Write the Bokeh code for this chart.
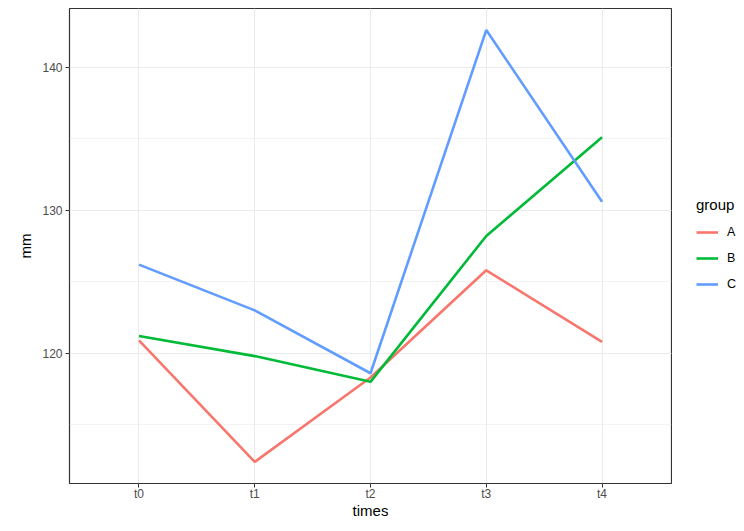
from bokeh.plotting import figure
from bokeh.layouts import row
from bokeh.models import Range1d, FixedTicker, SingleIntervalTicker, Legend, LegendItem
from bokeh.embed import file_html
from bokeh.resources import INLINE

times = ["t0", "t1", "t2", "t3", "t4"]
groups = ["A", "B", "C"]
values_A = [120.9, 112.4, 118.3, 125.8, 120.8]
values_B = [121.2, 119.8, 118.0, 128.2, 135.1]
values_C = [126.2, 123.0, 118.6, 142.6, 130.6]
colors = ["#F8766D", "#00BA38", "#619CFF"]

series = [values_A, values_B, values_C]
allv = values_A + values_B + values_C
lo, hi = min(allv), max(allv)
pad = (hi - lo) * 0.05

FONT = "Liberation Sans"

p = figure(width=672, height=531, output_backend="svg", toolbar_location=None,
           x_range=Range1d(-0.6, len(times) - 1 + 0.6),
           y_range=Range1d(lo - pad, hi + pad),
           min_border_left=69, min_border_right=1, min_border_top=8, min_border_bottom=48)

xs = list(range(len(times)))
for g, vals, c in zip(groups, series, colors):
    p.line(xs, vals, line_color=c, line_width=2.6)

p.background_fill_color = "white"
p.border_fill_color = "white"
p.outline_line_color = "#333333"
p.outline_line_width = 1.2

p.xaxis.ticker = FixedTicker(ticks=xs)
p.xaxis.major_label_overrides = {i: t for i, t in enumerate(times)}
p.yaxis.ticker = SingleIntervalTicker(interval=10, num_minor_ticks=2)

for ax in (p.xaxis[0], p.yaxis[0]):
    ax.axis_line_color = None
    ax.major_tick_line_color = "#333333"
    ax.major_tick_out = 4
    ax.major_tick_in = 0
    ax.minor_tick_line_color = None
    ax.major_label_text_font = FONT
    ax.major_label_text_font_size = "12px"
    ax.major_label_text_color = "#4D4D4D"
    ax.axis_label_text_font = FONT
    ax.axis_label_text_font_size = "15px"
    ax.axis_label_text_font_style = "normal"
    ax.axis_label_text_color = "black"

p.xaxis.major_label_standoff = -1
p.xaxis.axis_label_standoff = -2
p.yaxis.major_label_standoff = 3
p.yaxis.axis_label_standoff = 5

p.xaxis.axis_label = "times"
p.yaxis.axis_label = "mm"

p.xgrid.grid_line_color = "#EBEBEB"
p.xgrid.grid_line_width = 1
p.ygrid.grid_line_color = "#EBEBEB"
p.ygrid.grid_line_width = 1
p.ygrid.minor_grid_line_color = "#EBEBEB"
p.ygrid.minor_grid_line_width = 0.6

# legend panel to the right of the plot (its own view ranges hide the proxy lines)
lf = figure(width=72, height=531, output_backend="svg", toolbar_location=None,
            x_range=Range1d(1000, 1001), y_range=Range1d(1000, 1001),
            min_border_left=0, min_border_right=0, min_border_top=0, min_border_bottom=0)
lf.axis.visible = False
lf.grid.visible = False
lf.outline_line_color = None
lf.background_fill_color = "white"
lf.border_fill_color = "white"

items = []
for g, vals, c in zip(groups, series, colors):
    r = lf.line(xs, vals, line_color=c, line_width=2.6)
    items.append(LegendItem(label=g, renderers=[r]))

legend = Legend(items=items, location=(24, 189), title="group",
                title_text_font=FONT, title_text_font_size="15px", title_text_color="black",
                title_text_font_style="normal", title_standoff=9,
                label_text_font=FONT, label_text_font_size="12.5px", label_text_color="black",
                glyph_width=22, glyph_height=20, label_standoff=9, spacing=6,
                padding=0, margin=0, border_line_color=None, background_fill_alpha=0)
lf.add_layout(legend, "center")

open("out.html", "w").write(file_html(row(p, lf, spacing=0), INLINE))
